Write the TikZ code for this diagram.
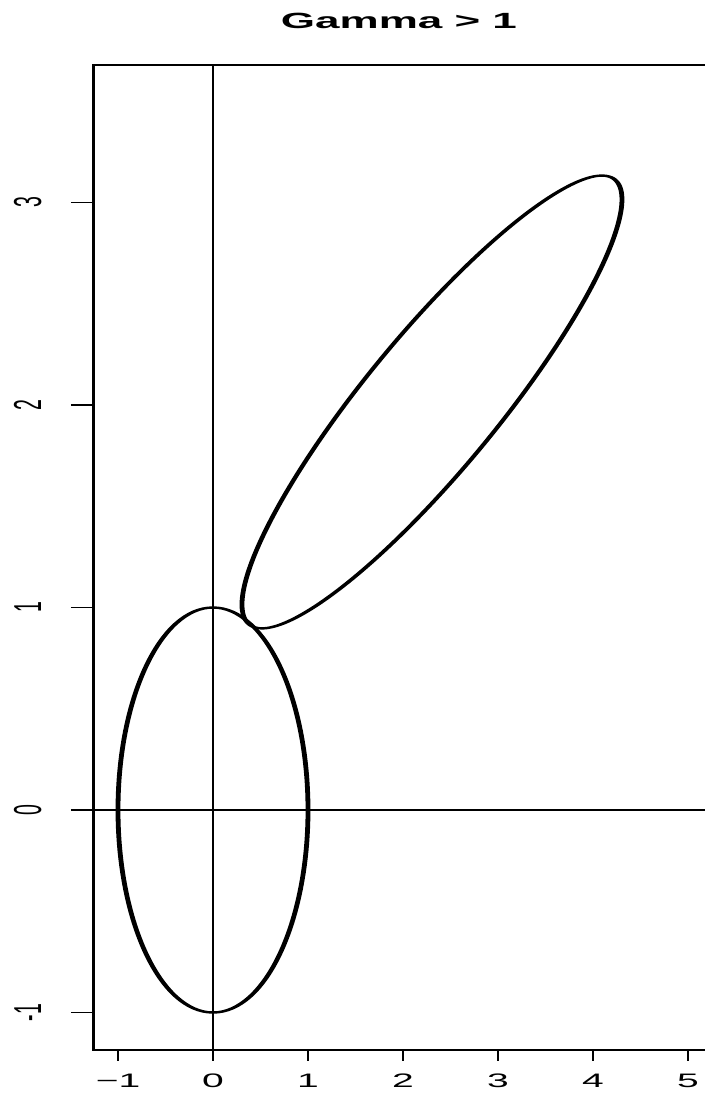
\documentclass[tikz,border=0pt]{standalone}
\usepackage{fontspec}
\setmainfont{Liberation Sans}
\begin{document}
\begin{tikzpicture}[x=1bp,y=-1bp]
\useasboundingbox (0,0) rectangle (705,1094);
\fill[white] (0,0) rectangle (705,1094);
\begin{scope}[x=0.5bp,y=-1bp,transform canvas={xscale=2},
  axis/.style={line width=1.15bp},
  curve/.style={line width=2.4bp},
  lab/.style={inner sep=0pt, font=\fontsize{19.5bp}{19.5bp}\selectfont},
  ttl/.style={inner sep=0pt, font=\fontsize{22bp}{22bp}\selectfont\bfseries}]
  % box and reference lines
  \draw[axis] (93.5,65) rectangle (740,1050);
  \draw[axis] (213,65) -- (213,1050);
  \draw[axis] (93.5,810) -- (740,810);
  % y ticks and labels
  \foreach \v/\t/\n in {-1/-1/a,0/0/b,1/1/c,2/2/d,3/3/e}{
    \draw[axis] (71,{810-202.5*\v}) -- (93.5,{810-202.5*\v});
    \node[lab, rotate=90, anchor=base] (yl\n) at (41,{810-202.5*\v}) {\t};
  }
  % x ticks and labels
  \foreach \v/\t/\n in {-1/−1/a,0/0/b,1/1/c,2/2/d,3/3/e,4/4/f,5/5/g}{
    \draw[axis] ({213+95*\v},1050) -- ({213+95*\v},1061);
    \node[lab, anchor=base] (xl\n) at ({213+95*\v},1087) {\t};
  }
  % title
  \node[ttl, anchor=base] (title) at (399,28) {Gamma > 1};
  % unit circle
  \draw[curve] (213,810) ellipse [x radius=95, y radius=202.5];
  % transformed ellipse
  \draw[curve] plot[domain=0:360, samples=240, smooth cycle]
    ({213+95*(2.305+2*cos(\x))}, {810-202.5*(2.015+cos(\x)+0.5*sin(\x))});
\end{scope}
\end{tikzpicture}
\end{document}
